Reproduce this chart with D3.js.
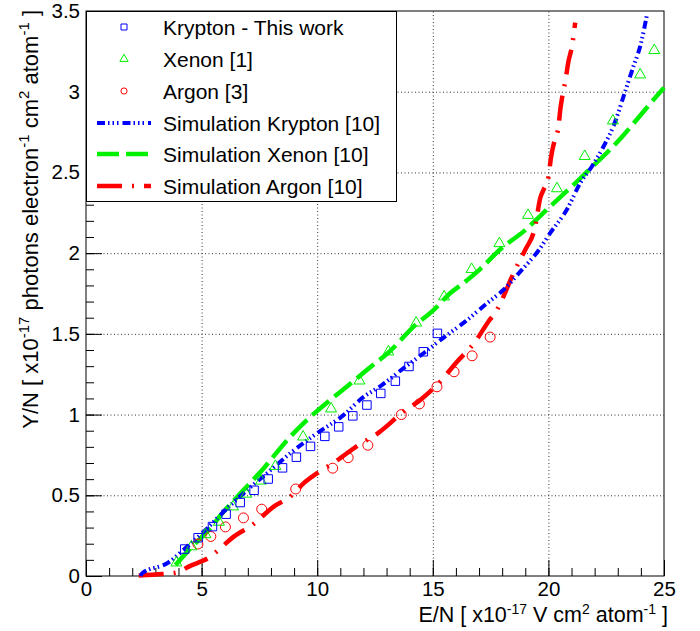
<!DOCTYPE html>
<html>
<head>
<meta charset="utf-8">
<script src="https://cdn.jsdelivr.net/npm/d3@7"></script>
<style>
  body { margin: 0; background: #fff; }
  text { font-family: "Liberation Sans", Arial, sans-serif; }
</style>
</head>
<body>
<div id="chart"></div>
<script>
var width = 700, height = 631;
var margin = {top: 11, right: 36, bottom: 55, left: 86};

// measured data (E/N in 1e-17 V cm2/atom, Y/N in 1e-17 photons/e cm2/atom)
var krEN = [4.27, 4.85, 5.47, 6.06, 6.67, 7.27, 7.88, 8.50, 9.10, 9.71, 10.33, 10.93, 11.54, 12.15, 12.75, 13.38, 13.97, 14.59, 15.20];
var krYN = [0.167, 0.237, 0.306, 0.383, 0.455, 0.531, 0.601, 0.670, 0.736, 0.803, 0.865, 0.924, 0.992, 1.059, 1.131, 1.207, 1.298, 1.389, 1.503];

var xeEN = [3.91, 4.56, 5.17, 5.75, 6.36, 6.93, 7.57, 8.19, 9.39, 10.6, 11.83, 13.08, 14.28, 15.49, 16.68, 17.88, 19.12, 20.37, 21.57, 22.79, 23.97, 24.58];
var xeYN = [0.082, 0.182, 0.257, 0.334, 0.429, 0.508, 0.589, 0.68, 0.862, 1.036, 1.209, 1.389, 1.568, 1.73, 1.9, 2.06, 2.235, 2.40, 2.60, 2.82, 3.105, 3.256];

var arEN = [4.84, 5.40, 6.03, 6.81, 7.60, 9.07, 10.67, 11.34, 12.19, 13.64, 14.42, 15.18, 15.92, 16.70, 17.48];
var arYN = [0.198, 0.245, 0.304, 0.36, 0.414, 0.539, 0.668, 0.733, 0.81, 1.0, 1.066, 1.172, 1.265, 1.364, 1.48];

// simulations
var simKrEN = [2.36, 2.43, 3.51, 4.38, 5.17, 5.96, 6.82, 7.83, 8.84, 10.0, 11.15, 11.94, 12.81, 13.74, 14.6, 15.47, 16.41, 17.35, 18.06, 18.79, 19.58, 20.08, 20.8, 21.38, 21.88, 22.39, 22.89, 23.25, 23.68, 23.97, 24.25];
var simKrYN = [0, 0.017, 0.079, 0.182, 0.285, 0.399, 0.513, 0.637, 0.761, 0.885, 0.998, 1.102, 1.184, 1.288, 1.38, 1.477, 1.577, 1.69, 1.773, 1.887, 2.018, 2.125, 2.27, 2.435, 2.537, 2.662, 2.815, 2.971, 3.158, 3.281, 3.467];

var simXeEN = [3.87, 4.52, 5.24, 5.96, 6.75, 7.69, 8.67, 9.66, 10.57, 11.22, 12.16, 13.16, 14.25, 14.97, 15.76, 16.33, 17.06, 17.92, 18.93, 19.97, 21.02, 21.88, 22.53, 23.15, 23.89, 24.55, 25.0];
var simXeYN = [0.068, 0.172, 0.275, 0.399, 0.523, 0.668, 0.837, 0.98, 1.091, 1.166, 1.277, 1.395, 1.556, 1.639, 1.753, 1.815, 1.903, 2.024, 2.135, 2.275, 2.414, 2.533, 2.622, 2.715, 2.839, 2.951, 3.025];

var simArEN = [2.28, 3.31, 3.94, 4.44, 5.38, 5.89, 6.39, 7.19, 8.12, 8.84, 9.42, 10.0, 10.79, 11.79, 12.66, 13.16, 13.6, 14.46, 15.33, 16.0, 16.84, 17.41, 17.78, 18.06, 18.43, 18.71, 19.0, 19.43, 19.65, 19.79, 20.01, 20.08, 20.16, 20.30, 20.44, 20.51, 20.59, 20.73, 20.87, 21.02, 21.16];
var simArYN = [0.003, 0.012, 0.022, 0.058, 0.12, 0.182, 0.244, 0.316, 0.43, 0.492, 0.575, 0.637, 0.709, 0.812, 0.888, 0.947, 1.004, 1.091, 1.205, 1.32, 1.453, 1.577, 1.649, 1.732, 1.856, 1.94, 2.021, 2.166, 2.343, 2.393, 2.476, 2.559, 2.63, 2.713, 2.786, 2.883, 2.962, 3.064, 3.189, 3.281, 3.428];

var xMajor = [0, 5, 10, 15, 20, 25];
var yMajor = [0, 0.5, 1, 1.5, 2, 2.5, 3, 3.5];

var legendLabels = ["Krypton - This work", "Xenon [1]", "Argon [3]",
  "Simulation Krypton [10]", "Simulation Xenon [10]", "Simulation Argon [10]"];

var blue = "#0000ff", green = "#00f000", red = "#ff0000";

var x = d3.scaleLinear().domain([0, 25]).range([margin.left, width - margin.right]);
var y = d3.scaleLinear().domain([0, 3.5]).range([height - margin.bottom, margin.top]);

var svg = d3.select("#chart").append("svg")
  .attr("width", width)
  .attr("height", height);

// grid
var grid = svg.append("g").attr("stroke", "#333").attr("stroke-width", 1).attr("stroke-dasharray", "1,2.5");
grid.selectAll(".gx").data(xMajor.slice(1, -1)).enter().append("line")
  .attr("x1", function(d) { return x(d) + 0.5; }).attr("x2", function(d) { return x(d) + 0.5; })
  .attr("y1", y(0)).attr("y2", y(3.5));
grid.selectAll(".gy").data(yMajor.slice(1, -1)).enter().append("line")
  .attr("y1", function(d) { return y(d) + 0.5; }).attr("y2", function(d) { return y(d) + 0.5; })
  .attr("x1", x(0)).attr("x2", x(25));

// axes
var xMinorAxis = d3.axisBottom(x).tickValues(d3.range(0, 26, 1)).tickSize(-8).tickFormat("");
var xAxis = d3.axisBottom(x).tickValues(xMajor).tickSize(-16).tickPadding(5).tickFormat(function(d) { return d; });
var yMinorAxis = d3.axisLeft(y).tickValues(d3.range(0, 35.5, 1).map(function(d) { return d / 10; })).tickSize(-8).tickFormat("");
var yAxis = d3.axisLeft(y).tickValues(yMajor).tickSize(-16).tickPadding(6).tickFormat(function(d) { return d; });

function styleAxis(g) {
  g.select(".domain").remove();
  g.selectAll("line").attr("stroke", "#000");
  g.selectAll("text").attr("font-size", 20.5).attr("fill", "#000")
    .style("font-family", "'Liberation Sans', Arial, sans-serif");
}

svg.append("g").attr("transform", "translate(0," + y(0) + ")").call(xMinorAxis).call(styleAxis);
svg.append("g").attr("transform", "translate(0," + y(0) + ")").call(xAxis).call(styleAxis);
svg.append("g").attr("transform", "translate(" + x(0) + ",0)").call(yMinorAxis).call(styleAxis);
svg.append("g").attr("transform", "translate(" + x(0) + ",0)").call(yAxis).call(styleAxis);

// frame
svg.append("rect")
  .attr("x", x(0)).attr("y", y(3.5))
  .attr("width", x(25) - x(0)).attr("height", y(0) - y(3.5))
  .attr("fill", "none").attr("stroke", "#000").attr("stroke-width", 1);

// simulation curves
function curveData(xs, ys) {
  return xs.map(function(d, i) { return [d, ys[i]]; });
}
var line = d3.line()
  .x(function(d) { return x(d[0]); })
  .y(function(d) { return y(d[1]); })
  .curve(d3.curveMonotoneX);

var sims = [
  {data: curveData(simXeEN, simXeYN), color: green, dash: "22,7", w: 4.5},
  {data: curveData(simArEN, simArYN), color: red, dash: "25,10,2,10", w: 4.5},
  {data: curveData(simKrEN, simKrYN), color: blue, dash: "8,3,1.5,3,1.5,3,1.5,4", w: 4}
];
svg.append("g").selectAll("path").data(sims).enter().append("path")
  .attr("d", function(d) { return line(d.data); })
  .attr("fill", "none")
  .attr("stroke", function(d) { return d.color; })
  .attr("stroke-width", function(d) { return d.w; })
  .attr("stroke-dasharray", function(d) { return d.dash; });

// data markers
var sym = {
  square: d3.symbol().type(d3.symbolSquare).size(72),
  triangle: d3.symbol().type(d3.symbolTriangle).size(52),
  circle: d3.symbol().type(d3.symbolCircle).size(78)
};

function drawMarkers(xs, ys, shape, color) {
  svg.append("g").selectAll("path").data(xs).enter().append("path")
    .attr("transform", function(d, i) { return "translate(" + x(d) + "," + y(ys[i]) + ")"; })
    .attr("d", sym[shape])
    .attr("fill", "none")
    .attr("stroke", color)
    .attr("stroke-width", 1);
}
drawMarkers(arEN, arYN, "circle", red);
drawMarkers(xeEN, xeYN, "triangle", green);
drawMarkers(krEN, krYN, "square", blue);

// legend
var leg = svg.append("g");
leg.append("rect")
  .attr("x", x(0) + 0.5).attr("y", y(3.5) + 0.5)
  .attr("width", 310).attr("height", 190)
  .attr("fill", "#fff").attr("stroke", "#000").attr("stroke-width", 1);

var legY = [27, 59, 91, 123, 154, 186];
var legMark = [
  {shape: "square", color: blue},
  {shape: "triangle", color: green},
  {shape: "circle", color: red}
];
legMark.forEach(function(m, i) {
  leg.append("path")
    .attr("transform", "translate(124," + legY[i] + ")")
    .attr("d", d3.symbol().type(m.shape == "square" ? d3.symbolSquare : m.shape == "triangle" ? d3.symbolTriangle : d3.symbolCircle).size(m.shape == "square" ? 36 : 30))
    .attr("fill", "none").attr("stroke", m.color).attr("stroke-width", 1);
});
[sims[2], sims[0], sims[1]].forEach(function(s, i) {
  leg.append("line")
    .attr("x1", 97).attr("x2", 151)
    .attr("y1", legY[i + 3]).attr("y2", legY[i + 3])
    .attr("stroke", s.color).attr("stroke-width", s.w)
    .attr("stroke-dasharray", s.dash);
});
leg.selectAll(".lt").data(legendLabels).enter().append("text")
  .attr("x", 163)
  .attr("y", function(d, i) { return legY[i] + 7.5; })
  .attr("font-size", 21)
  .text(function(d) { return d; });

// axis titles
var xt = svg.append("text")
  .attr("x", 668).attr("y", 622)
  .attr("text-anchor", "end")
  .attr("font-size", 21.5);
xt.append("tspan").text("E/N [ x10");
xt.append("tspan").attr("dy", -8).attr("font-size", 14).text("-17");
xt.append("tspan").attr("dy", 8).text(" V cm");
xt.append("tspan").attr("dy", -8).attr("font-size", 14).text("2");
xt.append("tspan").attr("dy", 8).text(" atom");
xt.append("tspan").attr("dy", -8).attr("font-size", 14).text("-1");
xt.append("tspan").attr("dy", 8).text(" ]");

var yt = svg.append("text")
  .attr("transform", "translate(38,10) rotate(-90)")
  .attr("text-anchor", "end")
  .attr("font-size", 22);
yt.append("tspan").text("Y/N [ x10");
yt.append("tspan").attr("dy", -9).attr("font-size", 15).text("-17");
yt.append("tspan").attr("dy", 9).text(" photons electron");
yt.append("tspan").attr("dy", -9).attr("font-size", 15).text("-1");
yt.append("tspan").attr("dy", 9).text(" cm");
yt.append("tspan").attr("dy", -9).attr("font-size", 15).text("2");
yt.append("tspan").attr("dy", 9).text(" atom");
yt.append("tspan").attr("dy", -9).attr("font-size", 15).text("-1");
yt.append("tspan").attr("dy", 9).text(" ]");
</script>
</body>
</html>
